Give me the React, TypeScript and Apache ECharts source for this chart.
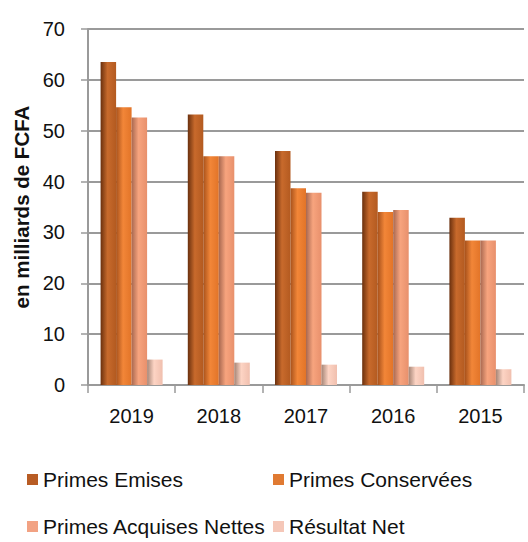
import React, { useEffect, useRef } from "react";
import * as echarts from "echarts";

const categories = ["2019", "2018", "2017", "2016", "2015"];
const primesEmises = [63.5, 53.2, 46, 38, 32.9];
const primesConservees = [54.6, 45, 38.7, 34, 28.4];
const primesAcquisesNettes = [52.6, 45, 37.8, 34.4, 28.4];
const resultatNet = [5, 4.4, 4, 3.6, 3.1];
const yTicks = [0, 70, 10];

const seriesNames = ["Primes Emises", "Primes Conservées", "Primes Acquises Nettes", "Résultat Net"];
const seriesData = [primesEmises, primesConservees, primesAcquisesNettes, resultatNet];
const legendColors = ["#b85c24", "#e07a32", "#f2a283", "#f5c7b8"];
const gradStops = [
  ["#6a300e", "#c86a2c", "#b35a20"],
  ["#a8521c", "#f28638", "#e27428"],
  ["#a86850", "#f7a47e", "#e8906c"],
  ["#a58576", "#fdd4c4", "#f0bfae"],
];

export default function App() {
  const ref = useRef<HTMLDivElement>(null);
  useEffect(() => {
    if (!ref.current) return;
    const chart = echarts.init(ref.current, undefined, { renderer: "svg" });
    const font = "Liberation Sans, Arial, sans-serif";
    const legendPos = [
      { left: 27, top: 469 },
      { left: 273, top: 469 },
      { left: 27, top: 516 },
      { left: 273, top: 516 },
    ];
    chart.setOption({
      animation: false,
      backgroundColor: "#ffffff",
      textStyle: { fontFamily: font },
      grid: { left: 88, right: 4, top: 29, bottom: 157 },
      legend: seriesNames.map((n, i) => ({
        data: [{ name: n, itemStyle: { color: legendColors[i] } }],
        left: legendPos[i].left,
        top: legendPos[i].top,
        icon: "rect",
        itemWidth: 11,
        itemHeight: 11,
        itemGap: 6,
        textStyle: { fontSize: 21, color: "#111", fontFamily: font },
        padding: 0,
        selectedMode: false,
      })),
      xAxis: {
        type: "category",
        data: categories,
        axisLine: { show: true, lineStyle: { color: "#9a9a9a", width: 2 } },
        axisTick: { show: true, alignWithLabel: false, length: 8, lineStyle: { color: "#9a9a9a", width: 1.5 } },
        axisLabel: { fontSize: 20, color: "#111", margin: 21, fontFamily: font },
      },
      yAxis: {
        type: "value",
        min: yTicks[0],
        max: yTicks[1],
        interval: yTicks[2],
        name: "en milliards de FCFA",
        nameLocation: "middle",
        nameGap: 41,
        nameTextStyle: { fontSize: 20.5, fontWeight: "bold", color: "#111", fontFamily: font },
        axisLine: { show: true, lineStyle: { color: "#9a9a9a", width: 2 } },
        axisTick: { show: true, length: 7, lineStyle: { color: "#9a9a9a", width: 1.5 } },
        axisLabel: { fontSize: 20, color: "#111", margin: 23, fontFamily: font },
        splitLine: { show: true, lineStyle: { color: "#9a9a9a", width: 2 } },
      },
      series: seriesNames.map((n, i) => ({
        name: n,
        type: "bar",
        data: seriesData[i],
        barWidth: 15.5,
        barGap: "0%",
        color: legendColors[i],
        itemStyle: {
          color: new echarts.graphic.LinearGradient(0, 0, 1, 0, [
            { offset: 0, color: gradStops[i][0] },
            { offset: 0.45, color: gradStops[i][1] },
            { offset: 1, color: gradStops[i][2] },
          ]),
        },
      })),
    });
    return () => chart.dispose();
  }, []);
  return <div ref={ref} style={{ width: 528, height: 542, position: "absolute", left: 0, top: 0 }} />;
}
